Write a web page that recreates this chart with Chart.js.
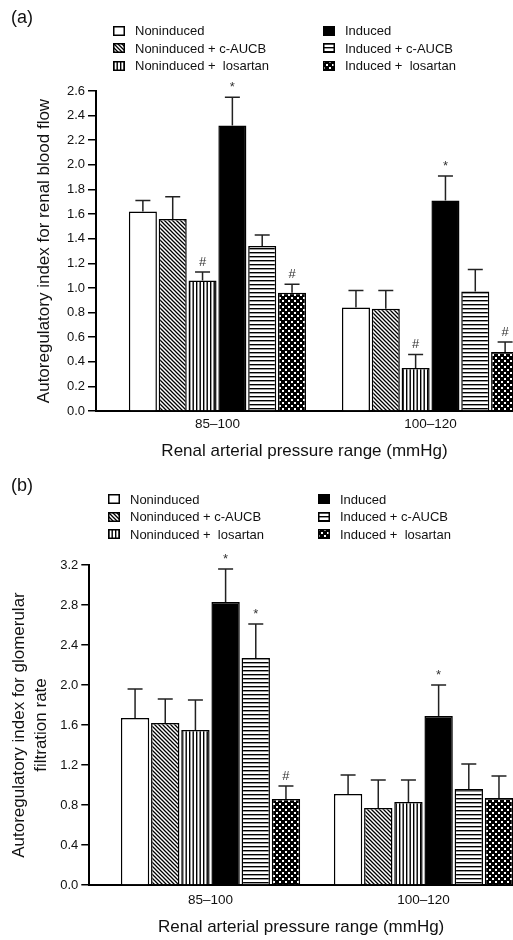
<!DOCTYPE html>
<html>
<head>
<meta charset="utf-8">
<script src="https://cdn.jsdelivr.net/npm/chart.js@4.4.1/dist/chart.umd.min.js"></script>
<style>
  html, body { margin: 0; padding: 0; background: #fff; overflow: hidden; }
  body { width: 513px; height: 940px; position: relative; font-family: 'Liberation Sans', Arial, sans-serif; color: #111; }
  .panel { position: absolute; left: 0; width: 513px; height: 470px; }
  .panel > canvas { position: absolute; left: 0; top: 0; }
  .tag { position: absolute; left: 11px; font-size: 18px; line-height: 20px; }
  .item { position: absolute; height: 16px; display: flex; align-items: center; font-size: 13px; white-space: pre; }
  .item canvas { margin-right: 10px; }
</style>
</head>
<body>
<div class="panel" id="panelA" style="top:0">
  <canvas id="chartA" width="513" height="470"></canvas>
  <div class="tag" style="top:7px">(a)</div>
</div>
<div class="panel" id="panelB" style="top:470px">
  <canvas id="chartB" width="513" height="470"></canvas>
  <div class="tag" style="top:5px">(b)</div>
</div>
<script>
// ── Datos ─────────────────────────────────────────────────────
const pressureRanges = ['85–100', '100–120'];
const groupLabels = [
  'Noninduced', 'Noninduced + c-AUCB', 'Noninduced +  losartan',
  'Induced', 'Induced + c-AUCB', 'Induced +  losartan'
];

// (a) renal blood flow: media por grupo [85–100, 100–120]
const rbfMean = [
  [1.62, 0.84],
  [1.56, 0.83],
  [1.06, 0.35],
  [2.32, 1.71],
  [1.34, 0.97],
  [0.96, 0.48],
];
const rbfSem = [
  [0.09, 0.14],
  [0.18, 0.15],
  [0.07, 0.11],
  [0.23, 0.20],
  [0.09, 0.18],
  [0.07, 0.08],
];
const rbfMarks = [
  ['', ''], ['', ''], ['#', '#'], ['*', '*'], ['', ''], ['#', '#'],
];

// (b) glomerular filtration rate
const gfrMean = [
  [1.67, 0.91],
  [1.62, 0.77],
  [1.55, 0.83],
  [2.83, 1.69],
  [2.27, 0.96],
  [0.86, 0.87],
];
const gfrSem = [
  [0.29, 0.19],
  [0.24, 0.28],
  [0.30, 0.22],
  [0.33, 0.31],
  [0.34, 0.25],
  [0.13, 0.22],
];
const gfrMarks = [
  ['', ''], ['', ''], ['', ''], ['*', '*'], ['*', ''], ['#', ''],
];

// ── Chart.js defaults ─────────────────────────────────────────
Chart.defaults.font.family = "'Liberation Sans', Arial, sans-serif";
Chart.defaults.color = '#111';
Chart.defaults.animation = false;
Chart.defaults.plugins.legend.display = false;
Chart.defaults.plugins.tooltip.enabled = false;

// ── Tramas ────────────────────────────────────────────────────
function tile(w, h, draw) {
  const c = document.createElement('canvas');
  c.width = w; c.height = h;
  const g = c.getContext('2d');
  g.fillStyle = '#fff';
  g.fillRect(0, 0, w, h);
  draw(g);
  return g.createPattern(c, 'repeat');
}

const fills = [
  '#ffffff',
  tile(4, 4, g => {
    g.strokeStyle = '#000'; g.lineWidth = 1.3;
    g.beginPath();
    g.moveTo(-1, -1); g.lineTo(5, 5);
    g.moveTo(-1, 3); g.lineTo(1, 5);
    g.moveTo(3, -1); g.lineTo(5, 1);
    g.stroke();
  }),
  tile(7, 4, g => { g.fillStyle = '#000'; g.fillRect(0, 0, 1.4, 4); g.fillRect(3.5, 0, 1.4, 4); }),
  '#000000',
  tile(4, 4, g => { g.fillStyle = '#000'; g.fillRect(0, 0, 4, 1.4); }),
  tile(6, 6, g => {
    g.fillStyle = '#000'; g.fillRect(0, 0, 6, 6);
    g.fillStyle = '#fff'; g.fillRect(0, 0, 2, 2); g.fillRect(3, 3, 2, 2);
  }),
];

// ── Barras de error y marcas ──────────────────────────────────
const errorBarPlugin = {
  id: 'errorBars',
  afterDatasetsDraw(chart) {
    const ctx = chart.ctx;
    const yScale = chart.scales.y;
    ctx.save();
    ctx.strokeStyle = '#222';
    ctx.lineWidth = 1.5;
    ctx.fillStyle = '#333';
    ctx.font = "13px 'Liberation Sans', Arial, sans-serif";
    ctx.textAlign = 'center';
    ctx.textBaseline = 'middle';
    chart.data.datasets.forEach((ds, i) => {
      chart.getDatasetMeta(i).data.forEach((bar, j) => {
        const top = yScale.getPixelForValue(ds.data[j].y + ds.sem[j]);
        ctx.beginPath();
        ctx.moveTo(bar.x, bar.y);
        ctx.lineTo(bar.x, top);
        ctx.moveTo(bar.x - 7.5, top);
        ctx.lineTo(bar.x + 7.5, top);
        ctx.stroke();
        if (ds.marks[j]) ctx.fillText(ds.marks[j], bar.x, top - 10);
      });
    });
    ctx.restore();
  }
};

// ── Construir gráfica ─────────────────────────────────────────
function buildChart(id, o) {
  const datasets = groupLabels.map((label, i) => ({
    label,
    data: pressureRanges.map((_, j) => ({ x: j, y: o.mean[i][j] })),
    sem: o.sem[i],
    marks: o.marks[i],
    backgroundColor: fills[i],
    borderColor: '#000',
    borderWidth: 1.5,
    categoryPercentage: o.catPct,
    barPercentage: 0.94,
  }));

  return new Chart(document.getElementById(id), {
    type: 'bar',
    data: { datasets },
    options: {
      responsive: false,
      layout: { padding: { top: o.top, left: 0, right: 0, bottom: 0 } },
      scales: {
        x: {
          type: 'linear',
          offset: false,
          min: o.xMin,
          max: o.xMax,
          afterBuildTicks: s => { s.ticks = pressureRanges.map((_, i) => ({ value: i })); },
          ticks: { callback: v => pressureRanges[v], font: { size: 13.5 }, padding: o.xTickPad, maxRotation: 0 },
          grid: { display: false, drawTicks: false },
          border: { color: '#000', width: 2 },
          title: { display: true, text: 'Renal arterial pressure range (mmHg)', font: { size: 17 }, padding: { top: 0, bottom: o.xTitlePad } },
          afterFit: s => { s.height = o.xHeight; },
        },
        y: {
          min: 0,
          max: o.yMax,
          ticks: { stepSize: o.yStep, callback: v => v.toFixed(1), font: { size: 13 }, padding: 3 },
          grid: { drawOnChartArea: false, drawTicks: true, tickLength: 8, color: '#000', lineWidth: 1.5 },
          border: { color: '#000', width: 2 },
          title: { display: true, text: o.yTitle, font: { size: 17, lineHeight: 1.25 }, padding: { top: o.yTitlePad, bottom: 0 } },
          afterFit: s => { s.width = o.yWidth; },
        },
      },
    },
    plugins: [errorBarPlugin],
  });
}

buildChart('chartA', {
  mean: rbfMean, sem: rbfSem, marks: rbfMarks,
  yMax: 2.6, yStep: 0.2, yTitle: 'Autoregulatory index for renal blood flow',
  top: 91, yWidth: 96, xHeight: 59, xMin: -0.570, xMax: 1.387,
  catPct: 0.84, xTickPad: 5, xTitlePad: 8, yTitlePad: 34,
});

buildChart('chartB', {
  mean: gfrMean, sem: gfrSem, marks: gfrMarks,
  yMax: 3.2, yStep: 0.4, yTitle: ['Autoregulatory index for glomerular', 'filtration rate'],
  top: 95, yWidth: 89.3, xHeight: 55, xMin: -0.569, xMax: 1.42,
  catPct: 0.85, xTickPad: 7.5, xTitlePad: 2, yTitlePad: 9,
});

// ── Leyenda ───────────────────────────────────────────────────
function buildLegend(panelId, cols, rows) {
  const panel = document.getElementById(panelId);
  groupLabels.forEach((label, i) => {
    const col = Math.floor(i / 3), row = i % 3;
    const item = document.createElement('div');
    item.className = 'item';
    item.style.left = cols[col] + 'px';
    item.style.top = (rows[row] - 8) + 'px';
    const sw = document.createElement('canvas');
    sw.width = 12; sw.height = 10;
    const g = sw.getContext('2d');
    g.fillStyle = fills[i];
    g.fillRect(0, 0, 12, 10);
    g.strokeStyle = '#000'; g.lineWidth = 1.5;
    g.strokeRect(0.75, 0.75, 10.5, 8.5);
    item.appendChild(sw);
    item.appendChild(document.createTextNode(label));
    panel.appendChild(item);
  });
}
buildLegend('panelA', [113, 323], [30.7, 48.3, 65.7]);
buildLegend('panelB', [108, 318], [29.3, 46.7, 64]);
</script>
</body>
</html>
